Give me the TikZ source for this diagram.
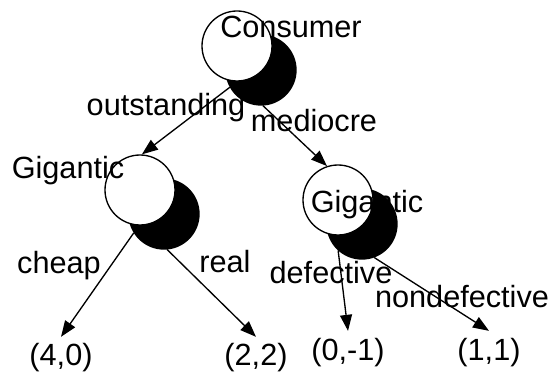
\documentclass[tikz,border=0pt]{standalone}
\usepackage{fontspec}
\setmainfont{Liberation Sans}
\usetikzlibrary{arrows.meta}

\tikzset{
  chance/.style={circle, draw, line width=1pt, fill=white, minimum size=52.5pt, inner sep=0pt},
  shade/.style={circle, draw, line width=1pt, fill=black, minimum size=52.5pt, inner sep=0pt},
  lbl/.style={anchor=base, inner sep=0pt, font=\fontsize{23}{27}\selectfont},
  payoff/.style={anchor=base, inner xsep=0pt, inner ysep=5pt, font=\fontsize{23}{27}\selectfont},
  move/.style={line width=1pt, -{Triangle[length=12pt, width=9pt]}}
}

\begin{document}
\begin{tikzpicture}[x=0.75pt, y=-0.75pt]
    \useasboundingbox (0,0) rectangle (556,373);
    % decision nodes: black shadow first, white disc on top
    \node[shade] (cs) at (261, 70) {};
    \node[chance] (c) at (237, 46) {};
    \node[shade] (gs1) at (164, 214) {};
    \node[chance] (g1) at (140, 190) {};
    \node[shade] (gs2) at (362, 224) {};
    \node[chance] (g2) at (338, 200) {};
    % payoffs
    \node[payoff] (p1) at (61, 366) {(4,0)};
    \node[payoff] (p2) at (256, 366) {(2,2)};
    \node[payoff] (p3) at (348, 360) {(0,-1)};
    \node[payoff] (p4) at (489, 360) {(1,1)};
    % moves
    \draw [move] (cs.209) to (g1.87);
    \draw [move] (cs.-87) to (g2.108);
    \draw [move] (gs1.212) to (p1.north);
    \draw [move] (gs1.-85) to (p2.north);
    \draw [move] (gs2.228) to (p3.north);
    \draw [move] (gs2.-70) to (p4.north);
    % texts
    \node[lbl] (tc) at (291, 38) {Consumer};
    \node[lbl] (tg1) at (68, 179) {Gigantic};
    \node[lbl] (tg2) at (367, 213) {Gigantic};
    \node[lbl] (out) at (166, 116) {outstanding};
    \node[lbl] (med) at (314, 132) {mediocre};
    \node[lbl] (chp) at (59, 274) {cheap};
    \node[lbl] (rl) at (225, 273) {real};
    \node[lbl] (def) at (331, 284) {defective};
    \node[lbl] (ndef) at (462, 308) {nondefective};
  \end{tikzpicture}
\end{document}
